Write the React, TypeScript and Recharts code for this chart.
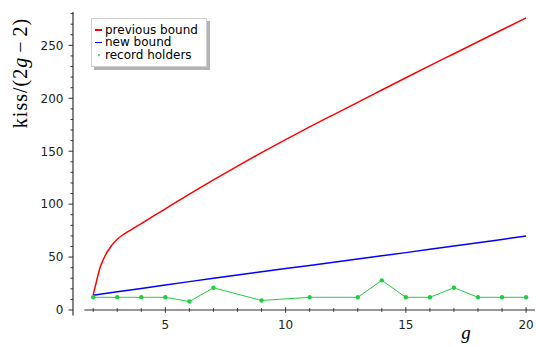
import { Legend, Line, LineChart, ReferenceLine, XAxis, YAxis } from 'recharts'

// axis ticks: every integer genus, every 10 on the ratio axis
const gTicks = [2, 3, 4, 5, 6, 7, 8, 9, 10, 11, 12, 13, 14, 15, 16, 17, 18, 19, 20]
const gMajor = [5, 10, 15, 20]
const ratioTicks = [0, 10, 20, 30, 40, 50, 60, 70, 80, 90, 100, 110, 120, 130, 140, 150, 160, 170, 180, 190, 200, 210, 220, 230, 240, 250, 260, 270, 280]
const ratioMajor = [0, 50, 100, 150, 200, 250]

// previous bound (sampled densely near g = 2 where it bends)
const prevBoundG = [2, 2.05, 2.1, 2.2, 2.3, 2.4, 2.5, 2.75, 3, 3.25, 3.5, 3.75, 4, 4.5, 5, 6, 7, 8, 9, 10, 11, 12, 13, 14, 15, 16, 17, 18, 19, 20]
const prevBoundValue = [14, 19, 23.5, 33, 41, 46.5, 51.5, 60.5, 66.8, 71.2, 74.8, 78.2, 81.6, 88.6, 95.6, 109.5, 123, 136, 148.7, 161, 173, 184.6, 196.2, 207.8, 219.4, 230.8, 242.1, 253.4, 264.7, 276]

// new bound
const newBoundG = [2, 3, 4, 5, 6, 7, 8, 9, 10, 11, 12, 13, 14, 15, 16, 17, 18, 19, 20]
const newBoundValue = [14, 17.2, 20.4, 23.6, 26.8, 29.9, 33, 36.1, 39.1, 42.1, 45.1, 48.1, 51.2, 54.2, 57.3, 60.4, 63.5, 66.7, 70]

// best known configurations
const recordG = [2, 3, 4, 5, 6, 7, 9, 11, 13, 14, 15, 16, 17, 18, 19, 20]
const recordValue = [12, 12, 12, 12, 8, 21, 9, 12, 12, 28, 12, 12, 21, 12, 12, 12]

const toPoints = (gs: number[], vs: number[]) => gs.map((g, i) => ({ g, value: vs[i] }))

const prevBound = toPoints(prevBoundG, prevBoundValue)
const newBound = toPoints(newBoundG, newBoundValue)
const records = toPoints(recordG, recordValue)

const AXIS = '#333'
const TICK_FONT = '"DejaVu Sans", sans-serif'

const series = [
  { name: 'previous bound', color: '#ff0000', dot: false },
  { name: 'new bound', color: '#0000ff', dot: false },
  { name: 'record holders', color: '#22cc44', dot: true },
]

const GTick = ({ x, y, payload }: any) => {
  const major = gMajor.includes(payload.value)
  const h = major ? 2.8 : 1.8
  return (
    <g>
      <line x1={x} x2={x} y1={y - h} y2={y + h} stroke={AXIS} strokeWidth={1} />
      {major && (
        <text x={x} y={y + 18.5} textAnchor="middle" fontSize={12} fontFamily={TICK_FONT} fill="#222">
          {payload.value}
        </text>
      )}
    </g>
  )
}

const RatioTick = ({ x, y, payload }: any) => {
  const major = ratioMajor.includes(payload.value)
  return (
    <g>
      <line x1={x - (major ? 4.5 : 2.5)} x2={x} y1={y} y2={y} stroke={AXIS} strokeWidth={1} />
      {major && (
        <text x={x - 9.5} y={y + 4.3} textAnchor="end" fontSize={12} fontFamily={TICK_FONT} fill="#222">
          {payload.value}
        </text>
      )}
    </g>
  )
}

const LegendBox = () => (
  <div
    style={{
      width: 116,
      height: 49,
      boxSizing: 'border-box',
      border: '1px solid #d0d0d0',
      background: '#fff',
      boxShadow: '3px 3px 0 #b4b4b4',
      padding: '4.8px 0 0 3px',
      fontFamily: TICK_FONT,
      fontSize: 12,
      lineHeight: '12.5px',
      color: '#000',
    }}
  >
    {series.map((s) => (
      <div key={s.name} style={{ display: 'flex', alignItems: 'center', height: 12.5 }}>
        <span style={{ width: 7, display: 'flex', justifyContent: 'center' }}>
          {s.dot ? (
            <span style={{ width: 2, height: 2, background: s.color, borderRadius: 1 }} />
          ) : (
            <span style={{ width: 7, height: 1.5, background: s.color }} />
          )}
        </span>
        <span style={{ marginLeft: 3, whiteSpace: 'nowrap' }}>{s.name}</span>
      </div>
    ))}
  </div>
)

export default function App() {
  return (
    <div style={{ position: 'absolute', left: 0, top: 0, width: 536, height: 347, background: '#fff' }}>
      <LineChart width={536} height={347} margin={{ top: 12, right: 1, bottom: 0, left: 0 }}>
        <XAxis
          type="number"
          dataKey="g"
          domain={[1.16, 20.37]}
          allowDataOverflow
          ticks={gTicks}
          interval={0}
          axisLine={false}
          tickLine={false}
          tickSize={0}
          tickMargin={0}
          height={37}
          tick={<GTick />}
          label={{
            content: () => (
              <text x={466} y={338.5} textAnchor="middle" fontSize={19} fontStyle="italic" fontFamily='"Liberation Serif", serif' fill="#000">
                g
              </text>
            ),
          }}
        />
        <YAxis
          type="number"
          domain={[0, 281.5]}
          allowDataOverflow
          ticks={ratioTicks}
          interval={0}
          axisLine={false}
          tickLine={false}
          tickSize={0}
          tickMargin={0}
          width={73}
          tick={<RatioTick />}
          label={{
            content: () => (
              <text
                x={27}
                y={73}
                textAnchor="middle"
                transform="rotate(-90, 27, 73)"
                fontSize={20}
                letterSpacing={1}
                fontFamily='"Liberation Serif", serif'
                fill="#000"
              >
                kiss/(2<tspan fontStyle="italic">g</tspan>
                <tspan dx={4}>−</tspan>
                <tspan dx={4}>2)</tspan>
              </text>
            ),
          }}
        />
        <ReferenceLine
          ifOverflow="visible"
          segment={[{ x: 1.63, y: 0 }, { x: 20.37, y: 0 }]}
          stroke={AXIS}
          strokeWidth={1.2}
        />
        <ReferenceLine
          ifOverflow="visible"
          segment={[{ x: 1.16, y: -5.2 }, { x: 1.16, y: 281.5 }]}
          stroke={AXIS}
          strokeWidth={1.2}
        />
        <Line
          data={prevBound}
          dataKey="value"
          name="previous bound"
          type="monotone"
          stroke="#ff0000"
          strokeWidth={1.5}
          dot={false}
          isAnimationActive={false}
        />
        <Line
          data={newBound}
          dataKey="value"
          name="new bound"
          type="linear"
          stroke="#0000ff"
          strokeWidth={1.5}
          dot={false}
          isAnimationActive={false}
        />
        <Line
          data={records}
          dataKey="value"
          name="record holders"
          type="linear"
          stroke="#22cc44"
          strokeWidth={1}
          dot={{ r: 2.2, fill: '#22cc44', stroke: 'none' }}
          isAnimationActive={false}
        />
        <Legend
          layout="vertical"
          align="center"
          verticalAlign="middle"
          content={<LegendBox />}
          wrapperStyle={{ left: 91, top: 18, width: 'auto', height: 'auto' }}
        />
      </LineChart>
    </div>
  )
}
